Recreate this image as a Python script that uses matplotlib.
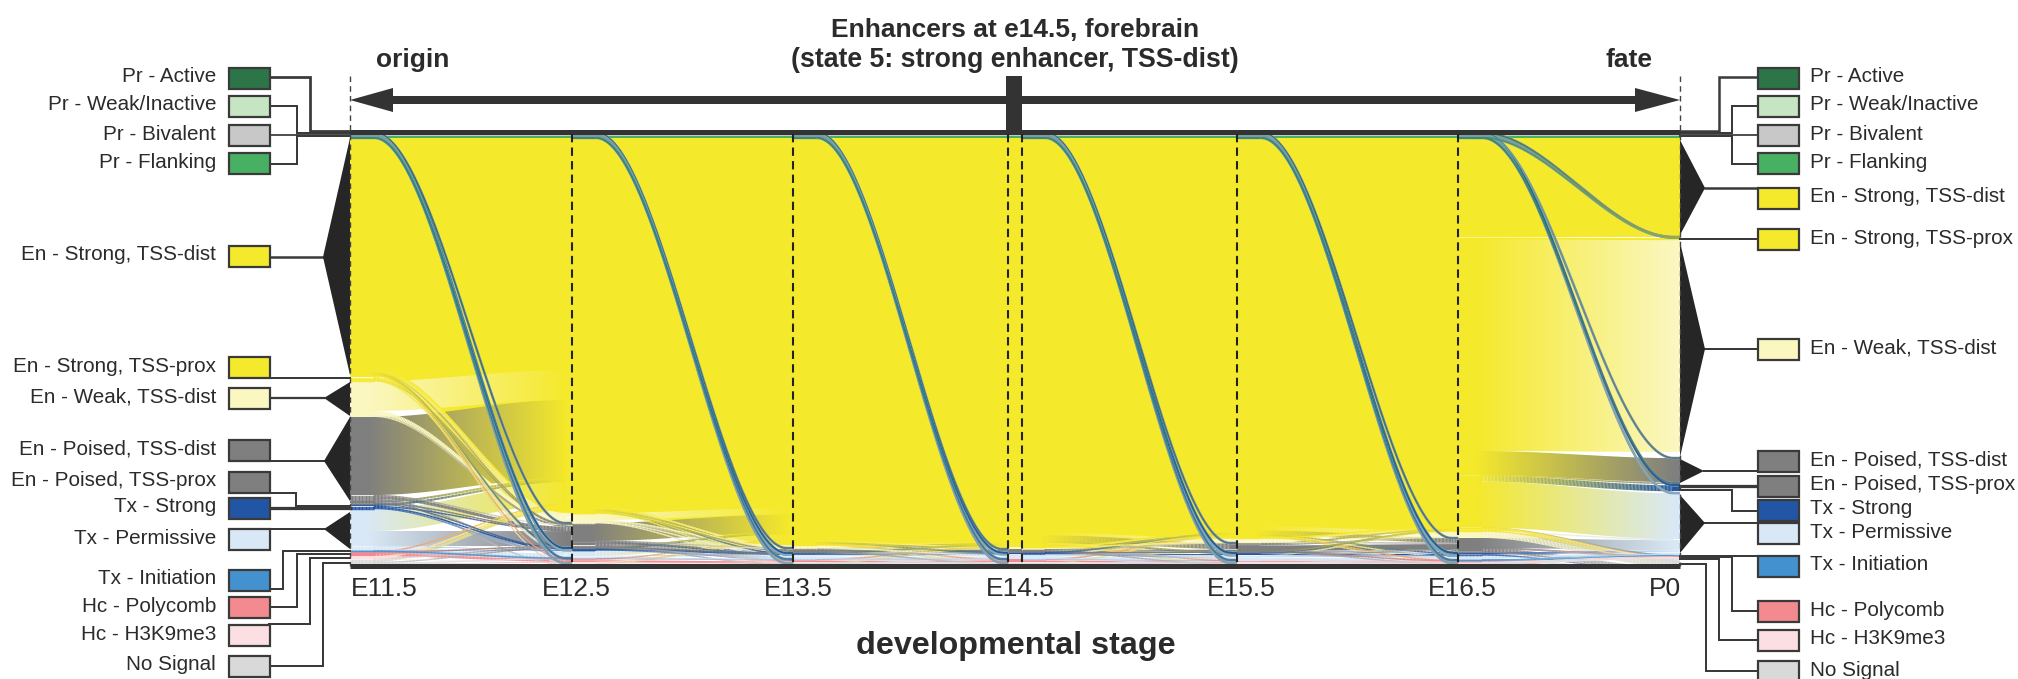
import matplotlib
matplotlib.use('Agg')
import matplotlib.pyplot as plt
import numpy as np
from matplotlib.collections import LineCollection
from matplotlib.colors import to_rgb

plt.rcParams['font.family'] = ['Liberation Sans', 'DejaVu Sans']

# State order, top to bottom of the stack
PA, PW, PB, PF, ES, EP, EW, PD, PP, TS, TP, TI, HC, HK, NS = range(15)

state_names = ['Pr - Active', 'Pr - Weak/Inactive', 'Pr - Bivalent', 'Pr - Flanking',
               'En - Strong, TSS-dist', 'En - Strong, TSS-prox', 'En - Weak, TSS-dist',
               'En - Poised, TSS-dist', 'En - Poised, TSS-prox', 'Tx - Strong', 'Tx - Permissive',
               'Tx - Initiation', 'Hc - Polycomb', 'Hc - H3K9me3', 'No Signal']
state_colors = ['#2c7548', '#c6e5c3', '#c8c8c8', '#47b063', '#f5e92b', '#f5e92b', '#fbf7c0',
                '#7f7f7f', '#7f7f7f', '#2255a4', '#d9e8f6', '#4392cf', '#f28a8f', '#fbdfe2', '#d9d9d9']

stage_days = [11.5, 12.5, 13.5, 14.5, 15.5, 16.5, 17.5]
stage_labels = ['E11.5', 'E12.5', 'E13.5', 'E14.5', 'E15.5', 'E16.5', 'P0']

# Stack sizes per stage (whole stack = 434)
pr_active = [1, 1, 1, 1, 1, 1, 1]
pr_weak = [1, 1, 1, 1, 1, 1, 1]
pr_bivalent = [2, 2, 2, 2, 2, 2, 2]
pr_flanking = [2, 2, 2, 2, 2, 2, 2]
en_strong_dist = [237, 374, 407, 409, 400, 393, 99]
en_strong_prox = [6, 1, 0.5, 0.3, 0.3, 0.3, 3]
en_weak = [36, 10, 2.5, 1.7, 4.7, 6.7, 218]
en_poised_dist = [84, 24, 4, 3, 9, 14, 25]
en_poised_prox = [3, 1, 1, 0.5, 0.5, 0.5, 2]
tx_strong = [5, 2, 1.5, 1.5, 2.5, 3, 8]
tx_permissive = [41, 8, 4.5, 5, 5, 4.5, 62]
tx_initiation = [1.5, 0.5, 0.5, 0.3, 0.3, 0.3, 1]
hc_polycomb = [4.5, 3.5, 2.5, 2.7, 2, 2, 1]
hc_h3k9me3 = [3, 1, 1, 0.7, 0.7, 0.7, 1]
no_signal = [7, 3, 3, 3.3, 3, 3, 8]

stage_sizes = np.array([pr_active, pr_weak, pr_bivalent, pr_flanking, en_strong_dist, en_strong_prox,
                        en_weak, en_poised_dist, en_poised_prox, tx_strong, tx_permissive,
                        tx_initiation, hc_polycomb, hc_h3k9me3, no_signal], dtype=float)

# Promoter strands that cross the yellow block in every interval
pr_strands = [(PA, PA, 0.7), (PW, PW, 0.7), (PB, PB, 1.7), (PF, PF, 1.7),
              (PA, TS, 0.1), (PA, PD, 0.1), (PW, TP, 0.1), (PW, HC, 0.1),
              (PB, TP, 0.1), (PB, NS, 0.1), (PF, TS, 0.1), (PF, TI, 0.1)]

flows_e11_e12 = [(ES, ES, 230), (ES, EP, 0.5), (ES, EW, 4), (ES, PD, 1), (ES, PP, 0.3), (ES, TS, 0.2),
                 (ES, TP, 1), (ES, HC, 0.3), (ES, NS, 0.7),
                 (EP, ES, 2), (EP, EW, 3), (EP, PD, 0.5), (EP, TP, 0.5),
                 (EW, ES, 30), (EW, EW, 4), (EW, PD, 2),
                 (PD, ES, 78), (PD, EW, 1), (PD, PD, 3), (PD, TP, 1), (PD, NS, 1),
                 (PP, ES, 2), (PP, PD, 0.5), (PP, TS, 0.5),
                 (TS, ES, 2), (TS, PD, 1), (TS, TS, 1), (TS, TP, 1),
                 (TP, ES, 22), (TP, PD, 15), (TP, TS, 0.5), (TP, TP, 3), (TP, HC, 0.5),
                 (TI, TS, 0.3), (TI, TP, 1), (TI, TI, 0.2),
                 (HC, ES, 1), (HC, PD, 0.5), (HC, TP, 0.5), (HC, HC, 2.5),
                 (HK, ES, 2), (HK, PD, 0.5), (HK, HK, 0.5),
                 (NS, ES, 3), (NS, PD, 1), (NS, TP, 1), (NS, HC, 0.5), (NS, HK, 0.5), (NS, NS, 1)]

flows_e12_e13 = [(ES, ES, 369), (ES, EW, 2), (ES, PD, 1.5), (ES, TS, 0.3), (ES, TP, 0.7), (ES, NS, 0.5),
                 (EP, ES, 0.5), (EP, EW, 0.3), (EP, PD, 0.2),
                 (EW, ES, 7), (EW, EW, 0.5), (EW, PD, 1.5), (EW, TP, 0.5), (EW, NS, 0.5),
                 (PD, ES, 18), (PD, EW, 0.2), (PD, PD, 1.5), (PD, TS, 0.3), (PD, TP, 2), (PD, HC, 1), (PD, NS, 1),
                 (PP, ES, 0.5), (PP, PD, 0.3), (PP, TP, 0.2),
                 (TS, ES, 1), (TS, PD, 0.3), (TS, TS, 0.4), (TS, TP, 0.3),
                 (TP, ES, 6), (TP, PD, 0.3), (TP, TS, 0.2), (TP, TP, 1), (TP, TI, 0.1), (TP, HC, 0.4),
                 (TI, TS, 0.1), (TI, TP, 0.2), (TI, TI, 0.2),
                 (HC, ES, 1), (HC, TP, 0.3), (HC, HC, 2), (HC, HK, 0.1), (HC, NS, 0.1),
                 (HK, ES, 0.5), (HK, HK, 0.4), (HK, NS, 0.1),
                 (NS, ES, 1), (NS, HC, 0.2), (NS, NS, 1.8)]

flows_e13_e14 = [(ES, ES, 403), (ES, EW, 0.8), (ES, PD, 1), (ES, TS, 0.3), (ES, TP, 1), (ES, HC, 0.3), (ES, NS, 0.6),
                 (EP, ES, 0.3), (EP, EW, 0.2),
                 (EW, ES, 1.4), (EW, EW, 0.7), (EW, PD, 0.2), (EW, TP, 0.2),
                 (PD, ES, 2), (PD, EW, 0.3), (PD, PD, 1.2), (PD, TP, 0.3), (PD, NS, 0.2),
                 (PP, ES, 0.4), (PP, PD, 0.3), (PP, PP, 0.3),
                 (TS, ES, 0.3), (TS, TS, 0.9), (TS, TP, 0.3),
                 (TP, ES, 1), (TP, PD, 0.3), (TP, TS, 0.3), (TP, TP, 2.5), (TP, HC, 0.2), (TP, NS, 0.2),
                 (TI, TP, 0.2), (TI, TI, 0.3),
                 (HC, ES, 0.4), (HC, TP, 0.3), (HC, HC, 1.5), (HC, NS, 0.3),
                 (HK, HK, 0.6), (HK, NS, 0.4),
                 (NS, ES, 0.5), (NS, TP, 0.3), (NS, HC, 0.5), (NS, HK, 0.1), (NS, NS, 1.6)]

flows_e14_e15 = [(ES, ES, 393.5), (ES, EP, 0.2), (ES, EW, 3.5), (ES, PD, 6), (ES, PP, 0.3), (ES, TS, 1), (ES, TP, 2.5),
                 (ES, HC, 0.5), (ES, NS, 1),
                 (EP, ES, 0.2), (EP, EW, 0.1),
                 (EW, ES, 0.7), (EW, EW, 0.7), (EW, PD, 0.3),
                 (PD, ES, 1.2), (PD, EW, 0.2), (PD, PD, 1.2), (PD, TP, 0.2), (PD, NS, 0.2),
                 (PP, ES, 0.2), (PP, PD, 0.1), (PP, PP, 0.2),
                 (TS, ES, 0.2), (TS, TS, 0.9), (TS, TP, 0.4),
                 (TP, ES, 1), (TP, PD, 0.4), (TP, TS, 0.4), (TP, TP, 2.7), (TP, HC, 0.2), (TP, NS, 0.3),
                 (TI, TP, 0.1), (TI, TI, 0.2),
                 (HC, ES, 0.4), (HC, TP, 0.4), (HC, HC, 1.4), (HC, NS, 0.5),
                 (HK, HK, 0.4), (HK, NS, 0.3),
                 (NS, ES, 0.6), (NS, TP, 0.4), (NS, HC, 0.3), (NS, HK, 0.2), (NS, NS, 1.8)]

flows_e15_e16 = [(ES, ES, 388.5), (ES, EW, 4), (ES, PD, 4.5), (ES, TS, 0.5), (ES, TP, 1), (ES, HC, 0.3), (ES, NS, 0.7),
                 (EP, ES, 0.2), (EP, EW, 0.1),
                 (EW, ES, 2), (EW, EW, 1.7), (EW, PD, 1),
                 (PD, ES, 1.5), (PD, EW, 0.5), (PD, PD, 5.5), (PD, TS, 0.3), (PD, TP, 0.4), (PD, HC, 0.2), (PD, NS, 0.3),
                 (PP, ES, 0.1), (PP, PD, 0.2), (PP, PP, 0.2),
                 (TS, ES, 0.2), (TS, PD, 0.2), (TS, TS, 1.6), (TS, TP, 0.5),
                 (TP, ES, 1), (TP, PD, 0.5), (TP, TS, 0.6), (TP, TP, 2.4), (TP, HC, 0.2), (TP, NS, 0.3),
                 (TI, TP, 0.1), (TI, TI, 0.2),
                 (HC, TP, 0.4), (HC, HC, 1.2), (HC, NS, 0.4),
                 (HK, HK, 0.4), (HK, NS, 0.3),
                 (NS, TP, 0.3), (NS, HC, 0.3), (NS, HK, 0.2), (NS, NS, 2.2)]

flows_e16_p0 = [(PA, PA, 0.8), (PA, EP, 0.1), (PA, TS, 0.1), (PW, PW, 0.7), (PW, EP, 0.2), (PW, PD, 0.1),
                (PB, PB, 1.6), (PB, EP, 0.2), (PB, TP, 0.2), (PF, PF, 1.6), (PF, EP, 0.1), (PF, PP, 0.1), (PF, TS, 0.2),
                (ES, ES, 99), (ES, EP, 2), (ES, EW, 212), (ES, PD, 24), (ES, PP, 0.5), (ES, TS, 6), (ES, TP, 46),
                (ES, TI, 0.3), (ES, HC, 0.3), (ES, HK, 0.2), (ES, NS, 2.7),
                (EP, NS, 0.3),
                (EW, TP, 1), (EW, NS, 5.7),
                (PD, TP, 10), (PD, HC, 0.3), (PD, HK, 0.2), (PD, NS, 3.5),
                (PP, NS, 0.5),
                (TS, TP, 2), (TS, NS, 1),
                (TP, TP, 2), (TP, HC, 0.2), (TP, HK, 0.1), (TP, NS, 2.2),
                (TI, TI, 0.2), (TI, TP, 0.1),
                (HC, HC, 0.5), (HC, NS, 1.5),
                (HK, HK, 0.5), (HK, NS, 0.2),
                (NS, NS, 1.5), (NS, TP, 0.5), (NS, HK, 0.2)]

all_flows = [flows_e11_e12 + pr_strands, flows_e12_e13 + pr_strands, flows_e13_e14 + pr_strands,
             flows_e14_e15 + pr_strands, flows_e15_e16 + pr_strands, flows_e16_p0]

# Legend layout in figure pixels: top of swatch, text goes with it
left_swatch_top = [68, 96, 125, 153, 246, 357, 388, 440, 472, 498, 529, 570, 597, 625, 656]
right_swatch_top = [68, 96, 125, 153, 188, 229, 339, 451, 476, 500, 523, 556, 601, 630, 661]

fig = plt.figure(figsize=(20.18, 6.79), dpi=100)
W, H = 2018, 679
ax = fig.add_axes([350 / W, 1 - 566 / H, 1330 / W, 434 / H])
ax.axis('off')
ax.set_xlim(11.5, 17.5)
ax.set_ylim(434, 0)
gap = 0.03

tops = np.vstack([np.zeros(7), np.cumsum(stage_sizes, axis=0)[:-1]])


def ease(x, x0, x1):
    t = np.clip((x - x0) / (x1 - x0), 0, 1)
    return t * t * (3 - 2 * t)


def draw_flow(x0, x1, y0, y1, size, src, dst, z):
    xs = np.linspace(x0, x1, 160)
    span = x1 - x0
    s = ease(xs, x0 + 0.11 * span, x0 + 0.97 * span)
    mid = y0 + (y1 - y0) * s + size / 2
    t = np.clip((xs - x0 - 0.08 * span) / (0.9 * span), 0, 1)[:, None]
    c0, c1 = np.array(to_rgb(state_colors[src])), np.array(to_rgb(state_colors[dst]))
    cols = c0 * (1 - t) + c1 * t
    if size <= 6 and abs(y1 - y0) > 4:
        # thin strand: keep its width along the curve
        lw = max(size, 1.4) * 0.72
        if src < ES and dst > PF:
            # promoter strands read darker, with a grey rim
            ax.plot(xs, mid, color='#84a0ae', lw=2.6 * 0.72, zorder=z - 0.5, solid_capstyle='butt')
            cols = cols * 0.55 + np.array(to_rgb('#1f5f80')) * 0.45
            lw = 1.5 * 0.72
        pts = np.column_stack([xs, mid]).reshape(-1, 1, 2)
        segs = np.concatenate([pts[:-1], pts[1:]], axis=1)
        ax.add_collection(LineCollection(segs, colors=cols[:-1], linewidths=lw, capstyle='butt', zorder=z))
    elif src == dst or state_colors[src] == state_colors[dst]:
        ax.fill_between(xs, mid - size / 2, mid + size / 2, color=state_colors[src], lw=0, zorder=z)
    else:
        band = ax.fill_between(xs, mid - size / 2, mid + size / 2, color='none', lw=0)
        img = ax.imshow(cols[None, :, :], extent=(x0, x1, 434, 0), aspect='auto', zorder=z, interpolation='bilinear')
        img.set_clip_path(band.get_paths()[0], ax.transData)


for k, flows in enumerate(all_flows):
    x0 = stage_days[k] + (gap if k == 3 else 0)
    x1 = stage_days[k + 1] - (gap if k == 2 else 0)
    # yellow ground under the strands, so loose gaps do not show white
    if k < 5:
        xs = np.linspace(x0, x1, 160)
        b0 = tops[ES, k] + stage_sizes[ES, k]
        b1 = tops[ES, k + 1] + stage_sizes[ES, k + 1]
        ax.fill_between(xs, tops[ES, k], b0 + (b1 - b0) * ease(xs, x0 + 0.11, x0 + 0.97),
                        color=state_colors[ES], lw=0, zorder=1)
    # stack flows inside each state: sources by target, targets by source
    out_pos = tops[:, k].copy()
    in_pos = tops[:, k + 1].copy()
    y_start = {}
    y_end = {}
    for f in sorted(flows, key=lambda q: (q[0], q[1])):
        y_start[f] = out_pos[f[0]]
        out_pos[f[0]] += f[2]
    for f in sorted(flows, key=lambda q: (q[1], q[0])):
        y_end[f] = in_pos[f[1]]
        in_pos[f[1]] += f[2]
    for f in sorted(flows, key=lambda q: -q[2]):
        z = 5 if f[2] > 6 else 6
        if f[0] < ES and f[1] > PF:
            z = 8
        draw_flow(x0, x1, y_start[f], y_end[f], f[2], f[0], f[1], z)

# flat stretch around E14.5
for i in range(15):
    ax.bar(14.5, stage_sizes[i, 3], bottom=tops[i, 3], width=2 * gap, color=state_colors[i], lw=0, zorder=5)
ax.set_xlim(11.5, 17.5)
ax.set_ylim(434, 0)

# Everything else sits on a pixel overlay
ov = fig.add_axes([0, 0, 1, 1])
ov.set_xlim(0, W)
ov.set_ylim(H, 0)
ov.axis('off')
ov.patch.set_alpha(0)
dark = '#2b2b2b'
line = '#3a3a3a'

for i, name in enumerate(state_names):
    for xsw, top in ((229, left_swatch_top[i]), (1758, right_swatch_top[i])):
        ov.add_patch(plt.Rectangle((xsw, top), 41, 20.5, fc=state_colors[i], ec=line, lw=1.6, zorder=4, clip_on=False))
    ov.text(216, left_swatch_top[i] + 9, name, ha='right', va='center', fontsize=14.9, color=dark)
    ov.text(1810, right_swatch_top[i] + 9, name, ha='left', va='center', fontsize=14.9, color=dark)

# black wedges between the stack and the legends
left_wedges = [(323, 257, 138, 375), (324, 398, 382, 416), (324, 461, 417, 501), (324, 529, 512, 549)]
right_wedges = [(1705, 188, 140, 235), (1705, 349, 242, 457), (1704, 471, 459, 483), (1705, 523, 495, 553)]
for tip, mid, a, b in left_wedges:
    ov.fill([tip, 350, 350], [mid, a, b], color='#262626', lw=0, zorder=3)
for tip, mid, a, b in right_wedges:
    ov.fill([tip, 1680, 1680], [mid, a, b], color='#262626', lw=0, zorder=3)

# connector lines: x and y of each elbow
left_links = [([269, 310, 310, 350], [77, 77, 131, 131], 2.2), ([269, 297, 297, 350], [106, 106, 133, 133], 1.6),
              ([269, 350], [135, 135], 1.4), ([269, 297, 297, 350], [164, 164, 136, 136], 1.6),
              ([269, 323], [257, 257], 2.0), ([269, 350], [378, 378], 1.6), ([269, 324], [398, 398], 1.8),
              ([269, 324], [461, 461], 1.6), ([269, 296, 296, 350], [493, 493, 506, 506], 1.6),
              ([269, 350], [508, 508], 2.6), ([269, 324], [529, 529], 1.6),
              ([269, 283, 283, 350], [589, 589, 551, 551], 1.6), ([269, 297, 297, 350], [607, 607, 554, 554], 1.6),
              ([269, 310, 310, 350], [624, 624, 558, 558], 1.6), ([269, 323, 323, 350], [666, 666, 563, 563], 1.6)]
right_links = [([1758, 1719, 1719, 1680], [77, 77, 131, 131], 2.0), ([1758, 1732, 1732, 1680], [106, 106, 133, 133], 1.6),
               ([1758, 1680], [135, 135], 1.4), ([1758, 1732, 1732, 1680], [164, 164, 136, 136], 1.6),
               ([1758, 1705], [188, 188], 2.0), ([1758, 1680], [239, 239], 1.6), ([1758, 1705], [349, 349], 1.6),
               ([1758, 1704], [471, 471], 1.6), ([1758, 1680], [486, 486], 2.6),
               ([1758, 1732, 1732, 1680], [511, 511, 490, 490], 1.6), ([1758, 1705], [523, 523], 1.6),
               ([1758, 1680], [556, 556], 1.6), ([1758, 1732, 1732, 1680], [611, 611, 557, 557], 1.6),
               ([1758, 1719, 1719, 1680], [640, 640, 559, 559], 1.6), ([1758, 1706, 1706, 1680], [671, 671, 564, 564], 1.6)]
for xs, ys, lw in left_links + right_links:
    ov.plot(xs, ys, color=line, lw=lw * 0.9, solid_joinstyle='miter', zorder=2)

# frame lines, dashes and the origin/fate arrow
ov.plot([350, 1680], [131.5, 131.5], color='#333333', lw=3.6, solid_capstyle='butt', zorder=6)
ov.plot([350, 1680], [565.5, 565.5], color='#333333', lw=3.6, solid_capstyle='butt', zorder=6)
for d in (12.5, 13.5, 14.5 - gap, 14.5 + gap, 15.5, 16.5):
    xd = 350 + (d - 11.5) * 1330 / 6
    ov.plot([xd, xd], [134, 566], color='#222222', lw=1.5, ls=(0, (4, 2.5)), zorder=7)
for xd in (350, 1680):
    ov.plot([xd, xd], [76, 566], color='#444444', lw=1.0, ls=(0, (4, 3)), zorder=7)
ov.fill([350, 393, 393, 1635, 1635, 1680, 1635, 1635, 393, 393],
        [100, 88, 96, 96, 88, 100, 112, 104, 104, 112], color='#333333', lw=0, zorder=6)
ov.add_patch(plt.Rectangle((1006, 76), 16, 55, fc='#333333', ec='none', zorder=6))

ov.text(1015, 30, 'Enhancers at e14.5, forebrain', ha='center', va='center', fontsize=19, color=dark, fontweight='bold')
ov.text(1015, 60, '(state 5: strong enhancer, TSS-dist)', ha='center', va='center', fontsize=19.2, color=dark, fontweight='bold')
ov.text(413, 60, 'origin', ha='center', va='center', fontsize=19, color=dark, fontweight='bold')
ov.text(1629, 60, 'fate', ha='center', va='center', fontsize=19, color=dark, fontweight='bold')
ov.text(1016, 646, 'developmental stage', ha='center', va='center', fontsize=23.2, color=dark, fontweight='bold')

label_x = [384, 576, 798, 1020, 1241, 1462, 1665]
for xl, lab in zip(label_x, stage_labels):
    ov.text(xl, 589, lab, ha='center', va='center', fontsize=19, color=dark)

fig.savefig('out.png', dpi=100)
